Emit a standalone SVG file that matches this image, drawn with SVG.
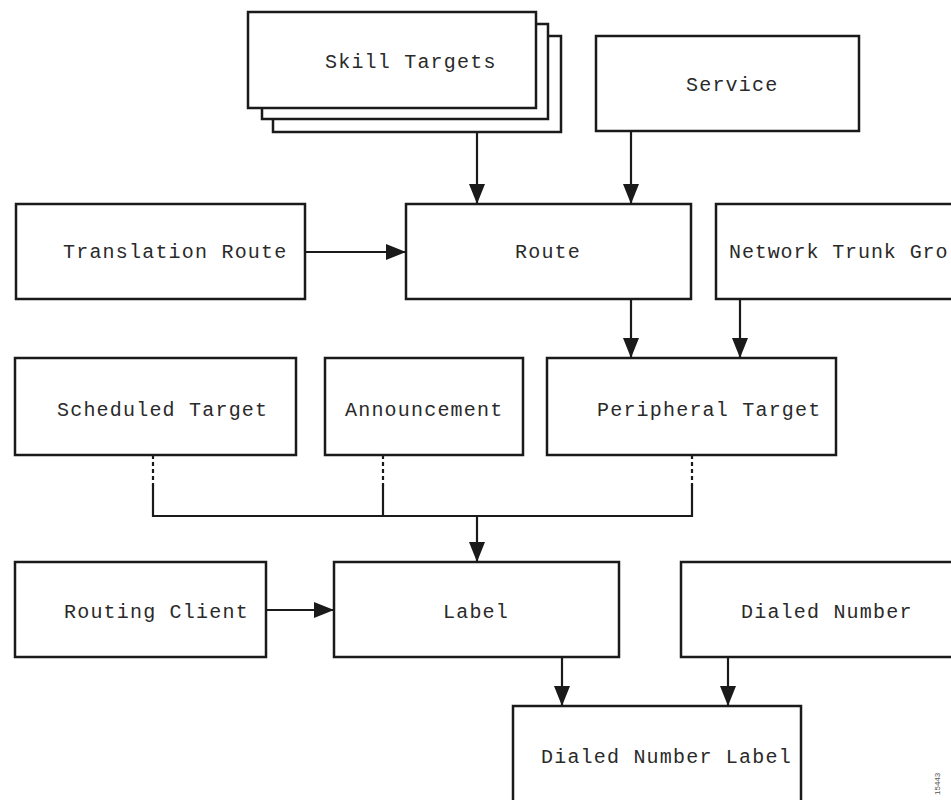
<svg xmlns="http://www.w3.org/2000/svg" width="951" height="800" viewBox="0 0 951 800">
<defs>
<style>
.box{fill:#fff;stroke:#1a1a1a;stroke-width:2.5}
.t{font-family:"Liberation Mono","DejaVu Sans Mono",monospace;font-size:20px;letter-spacing:1.2px;fill:#2a2a2a}
.c{fill:none;stroke:#1a1a1a;stroke-width:2.2}
.d{fill:none;stroke:#1a1a1a;stroke-width:2.2;stroke-dasharray:4 3}
.id{font-family:"Liberation Sans",sans-serif;font-size:8px;fill:#555}
</style>
<marker id="ah" viewBox="0 0 20 16" refX="20" refY="8" markerWidth="20" markerHeight="16" markerUnits="userSpaceOnUse" orient="auto">
<path d="M0,0 L20,8 L0,16 Z" fill="#1a1a1a"/>
</marker>
</defs>
<rect width="951" height="800" fill="#fff"/>

<g id="skill-targets">
<rect class="box" x="273" y="36" width="288" height="96"/>
<rect class="box" x="262" y="24" width="286" height="95"/>
<rect class="box" x="248" y="12" width="288" height="96"/>
<text class="t" x="325" y="68">Skill Targets</text>
</g>
<g id="service">
<rect class="box" x="596" y="36" width="263" height="95"/>
<text class="t" x="686" y="91">Service</text>
</g>
<g id="translation-route">
<rect class="box" x="16" y="204" width="289" height="95"/>
<text class="t" x="63" y="258">Translation Route</text>
</g>
<g id="route">
<rect class="box" x="406" y="204" width="285" height="95"/>
<text class="t" x="515" y="258">Route</text>
</g>
<g id="network-trunk-group">
<rect class="box" x="716" y="204" width="245" height="95"/>
<text class="t" x="729" y="258" style="letter-spacing:0.9px">Network Trunk Gro</text>
</g>
<g id="scheduled-target">
<rect class="box" x="15" y="358" width="281" height="97"/>
<text class="t" x="57" y="416">Scheduled Target</text>
</g>
<g id="announcement">
<rect class="box" x="325" y="358" width="198" height="97"/>
<text class="t" x="345" y="416">Announcement</text>
</g>
<g id="peripheral-target">
<rect class="box" x="547" y="358" width="289" height="97"/>
<text class="t" x="597" y="416">Peripheral Target</text>
</g>
<g id="routing-client">
<rect class="box" x="15" y="562" width="251" height="95"/>
<text class="t" x="64" y="618">Routing Client</text>
</g>
<g id="label">
<rect class="box" x="334" y="562" width="285" height="95"/>
<text class="t" x="443" y="618">Label</text>
</g>
<g id="dialed-number">
<rect class="box" x="681" y="562" width="280" height="95"/>
<text class="t" x="741" y="618">Dialed Number</text>
</g>
<g id="dialed-number-label">
<rect class="box" x="513" y="706" width="288" height="104"/>
<text class="t" x="541" y="763">Dialed Number Label</text>
</g>

<g id="connectors">
<line class="c" x1="477" y1="132" x2="477" y2="204" marker-end="url(#ah)"/>
<line class="c" x1="631" y1="131" x2="631" y2="204" marker-end="url(#ah)"/>
<line class="c" x1="305" y1="252" x2="406" y2="252" marker-end="url(#ah)"/>
<line class="c" x1="631" y1="299" x2="631" y2="358" marker-end="url(#ah)"/>
<line class="c" x1="740" y1="299" x2="740" y2="358" marker-end="url(#ah)"/>
<line class="d" x1="153" y1="455" x2="153" y2="486"/>
<line class="d" x1="383" y1="455" x2="383" y2="486"/>
<line class="d" x1="692" y1="455" x2="692" y2="486"/>
<polyline class="c" points="153,485 153,516 692,516 692,485"/>
<line class="c" x1="383" y1="485" x2="383" y2="516"/>
<line class="c" x1="477" y1="516" x2="477" y2="562" marker-end="url(#ah)"/>
<line class="c" x1="266" y1="610" x2="334" y2="610" marker-end="url(#ah)"/>
<line class="c" x1="562" y1="657" x2="562" y2="706" marker-end="url(#ah)"/>
<line class="c" x1="728" y1="657" x2="728" y2="706" marker-end="url(#ah)"/>
</g>
<text class="id" transform="translate(940,795) rotate(-90)">15443</text>
</svg>
